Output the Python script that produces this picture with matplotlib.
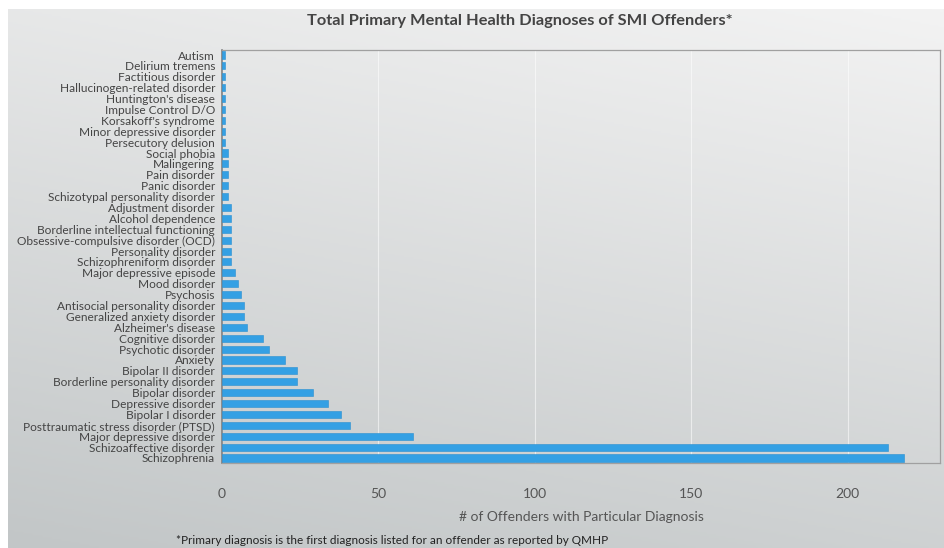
import numpy as np
import matplotlib
matplotlib.use("Agg")
import matplotlib.pyplot as plt

# categories, top to bottom as shown in the chart
diagnoses = [
    "Autism", "Delirium tremens", "Factitious disorder", "Hallucinogen-related disorder",
    "Huntington's disease", "Impulse Control D/O", "Korsakoff's syndrome",
    "Minor depressive disorder", "Persecutory delusion", "Social phobia", "Malingering",
    "Pain disorder", "Panic disorder", "Schizotypal personality disorder",
    "Adjustment disorder", "Alcohol dependence", "Borderline intellectual functioning",
    "Obsessive-compulsive disorder (OCD)", "Personality disorder", "Schizophreniform disorder",
    "Major depressive episode", "Mood disorder", "Psychosis", "Antisocial personality disorder",
    "Generalized anxiety disorder", "Alzheimer's disease", "Cognitive disorder",
    "Psychotic disorder", "Anxiety", "Bipolar II disorder", "Borderline personality disorder",
    "Bipolar disorder", "Depressive disorder", "Bipolar I disorder",
    "Posttraumatic stress disorder (PTSD)", "Major depressive disorder",
    "Schizoaffective disorder", "Schizophrenia",
]
counts = [
    1, 1, 1, 1, 1, 1, 1, 1, 1, 2, 2, 2, 2, 2,
    3, 3, 3, 3, 3, 3, 4, 5, 6, 7, 7, 8, 13, 15, 20, 24, 24,
    29, 34, 38, 41, 61, 213, 218,
]
xticks = [0, 50, 100, 150, 200]

plt.rcParams["font.family"] = ["Lato", "DejaVu Sans"]

fig = plt.figure(figsize=(9.45, 5.48), dpi=100)
fig.patch.set_facecolor("white")

# gradient background panel (light top-right, grey bottom-left)
bg = fig.add_axes([8 / 945, 0, 1 - 8 / 945, 1 - 9 / 548])
gx, gy = np.meshgrid(np.linspace(0, 1, 300), np.linspace(0, 1, 300))
shade = 0.75 * gy + 0.25 * (1 - gx)
cmap = matplotlib.colors.LinearSegmentedColormap.from_list("bg", ["#f3f3f3", "#c2c6c7"])
bg.imshow(shade, cmap=cmap, vmin=0, vmax=1, aspect="auto", extent=[0, 1, 0, 1], origin="upper")
bg.set_axis_off()

ax = fig.add_axes([222 / 945, 1 - 463 / 548, (940 - 222) / 945, (463 - 50) / 548])
ax.patch.set_alpha(0)

ypos = np.arange(len(diagnoses))[::-1]
ax.barh(ypos, counts, height=0.65, color="#34a0e4", edgecolor="#2a8fd0", linewidth=0.4, zorder=3)

ax.set_xlim(0, 229.5)
ax.set_ylim(-0.46, len(diagnoses) - 0.54)
ax.set_yticks(ypos)
ax.set_yticklabels(diagnoses, fontsize=8.6, color="#444444")
ax.set_xticks(xticks)
ax.set_xticklabels([str(t) for t in xticks], fontsize=10, color="#555555")
ax.tick_params(axis="both", length=0)
ax.tick_params(axis="x", pad=18)
ax.tick_params(axis="y", pad=5)
ax.xaxis.grid(True, color="#ffffff", alpha=0.55, linewidth=0.8, zorder=0)

for side in ["top", "right", "bottom"]:
    ax.spines[side].set_color("#a0a0a0")
    ax.spines[side].set_linewidth(0.9)
ax.spines["left"].set_color("#808080")
ax.spines["left"].set_linewidth(1.2)

ax.set_xlabel("# of Offenders with Particular Diagnosis", fontsize=10, color="#555555", labelpad=8)

fig.text(520 / 945, 1 - 21 / 548, "Total Primary Mental Health Diagnoses of SMI Offenders*",
         ha="center", va="center", fontsize=11.8, fontweight="bold", color="#444444")
fig.text(176 / 945, 1 - 541 / 548,
         "*Primary diagnosis is the first diagnosis listed for an offender as reported by QMHP",
         ha="left", va="center", fontsize=8.5, color="#222222")

fig.savefig("out.png", dpi=100)
